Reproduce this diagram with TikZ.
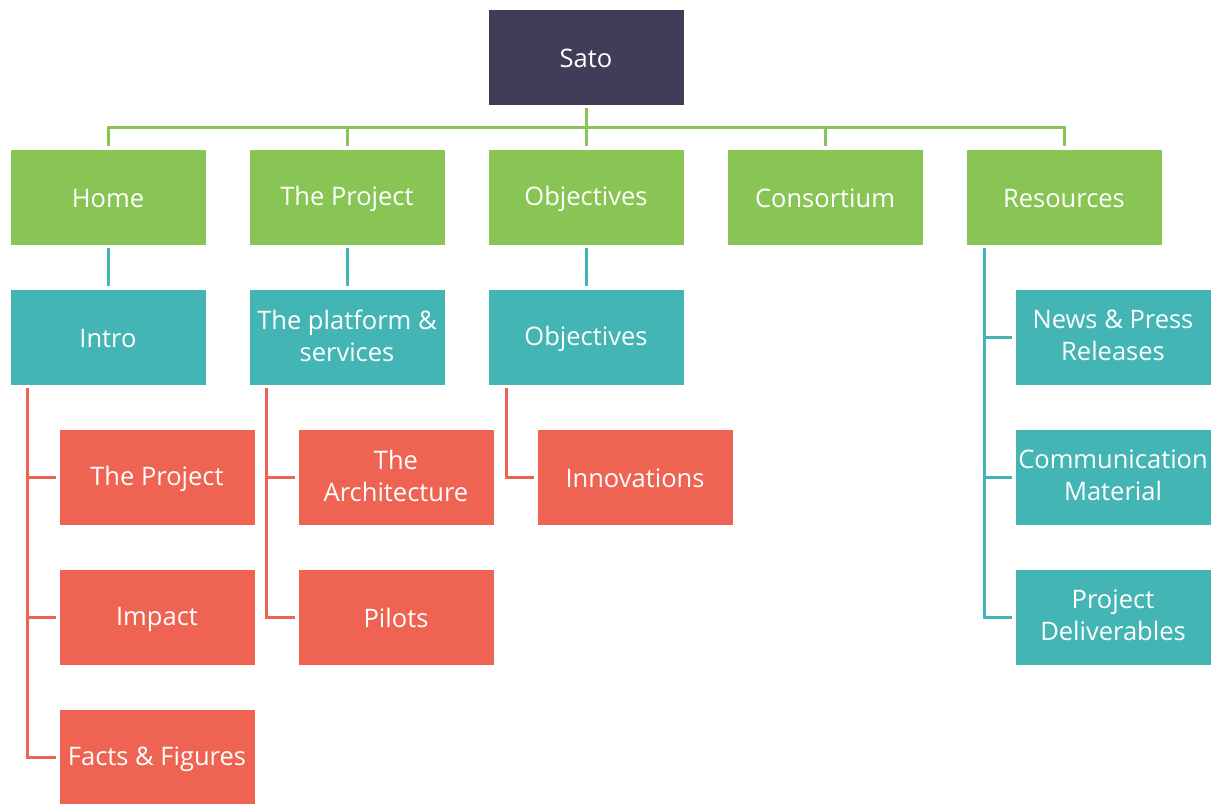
\documentclass[tikz,border=0pt]{standalone}
\usepackage{fontspec}
\setmainfont{Open Sans}
\definecolor{satodark}{HTML}{413C58}
\definecolor{satogreen}{HTML}{88C555}
\definecolor{satoteal}{HTML}{42B5B4}
\definecolor{satored}{HTML}{EE6352}
\newcommand{\boxstrut}{\rule[-3.2pt]{0pt}{27.2pt}}
\begin{document}
\begin{tikzpicture}[x=1pt,y=-1pt,
  box/.style={minimum width=195pt,minimum height=95pt,inner sep=0pt,
    text=white,align=center,font=\fontsize{25.5}{32}\selectfont,
    execute at begin node=\boxstrut,execute at end node=\boxstrut},
  top/.style={box,fill=satodark},
  lvlone/.style={box,fill=satogreen},
  lvltwo/.style={box,fill=satoteal},
  lvlthree/.style={box,fill=satored},
  link/.style={line width=3pt},
  gap/.style={shorten <=3pt,shorten >=3pt}]
  \useasboundingbox (0,0) rectangle (1212,803);

  % root and first level
  \node[top] (sato) at (586,57) {Sato};
  \node[lvlone] (home) at (108,197) {Home};
  \node[lvlone] (theproject) at (347,197) {The Project};
  \node[lvlone] (objone) at (586,197) {Objectives};
  \node[lvlone] (consortium) at (825,197) {Consortium};
  \node[lvlone] (resources) at (1064,197) {Resources};

  % second level
  \node[lvltwo] (intro) at (108,337) {Intro};
  \node[lvltwo] (platform) at (347,337) {The platform \&\\services};
  \node[lvltwo] (objtwo) at (586,337) {Objectives};
  \node[lvltwo] (news) at (1113,337) {News \& Press\\Releases};
  \node[lvltwo] (material) at (1113,477) {Communication\\Material};
  \node[lvltwo] (deliverables) at (1113,617) {Project\\Deliverables};

  % third level
  \node[lvlthree] (project) at (157,477) {The Project};
  \node[lvlthree] (impact) at (157,617) {Impact};
  \node[lvlthree] (facts) at (157,757) {Facts \& Figures};
  \node[lvlthree] (architecture) at (396,477) {The\\Architecture};
  \node[lvlthree] (pilots) at (396,617) {Pilots};
  \node[lvlthree] (innovations) at (635,477) {Innovations};

  % green bus
  \coordinate (bus) at (586,127);
  \draw[link,satogreen,gap] (sato) -- (objone);
  \draw[link,satogreen,gap] (home.north) |- (bus) -| (resources.north);
  \foreach \n in {theproject,consortium}
    \draw[link,satogreen,shorten >=3pt] (\n.north |- bus) -- (\n.north);

  % teal links
  \draw[link,satoteal,gap] (home) -- (intro);
  \draw[link,satoteal,gap] (theproject) -- (platform);
  \draw[link,satoteal,gap] (objone) -- (objtwo);
  \coordinate (restrunk) at ([xshift=18pt]resources.south west);
  \draw[link,satoteal,gap] (restrunk) |- (deliverables.west);
  \foreach \n in {news,material}
    \draw[link,satoteal,shorten >=3pt] (restrunk |- \n.west) -- (\n.west);

  % red links
  \coordinate (introtrunk) at ([xshift=17pt]intro.south west);
  \draw[link,satored,gap] (introtrunk) |- (facts.west);
  \foreach \n in {project,impact}
    \draw[link,satored,shorten >=3pt] (introtrunk |- \n.west) -- (\n.west);
  \coordinate (platformtrunk) at ([xshift=17pt]platform.south west);
  \draw[link,satored,gap] (platformtrunk) |- (pilots.west);
  \draw[link,satored,shorten >=3pt] (platformtrunk |- architecture.west) -- (architecture.west);
  \coordinate (objtrunk) at ([xshift=18pt]objtwo.south west);
  \draw[link,satored,gap] (objtrunk) |- (innovations.west);
\end{tikzpicture}
\end{document}
